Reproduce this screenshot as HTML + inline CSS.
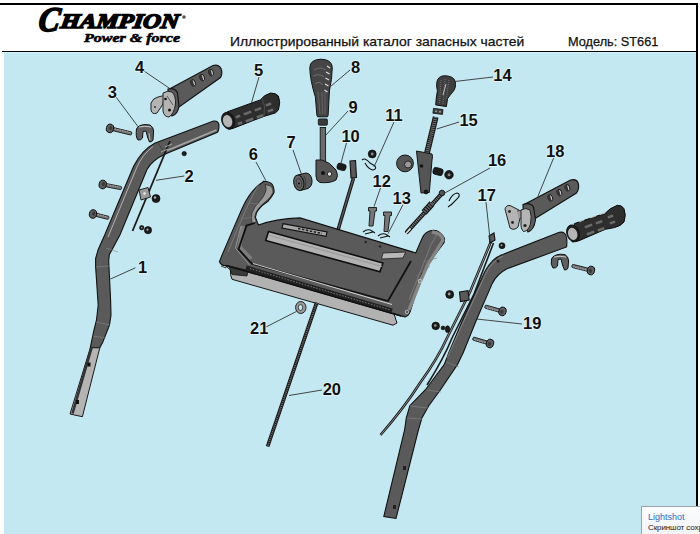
<!DOCTYPE html>
<html><head><meta charset="utf-8">
<style>
html,body{margin:0;padding:0;background:#fff;}
body{width:700px;height:534px;position:relative;overflow:hidden;font-family:"Liberation Sans",sans-serif;}
.abs{position:absolute;}
#topline{left:0;top:3px;width:698px;height:2px;background:#000;}
#rightline{left:696px;top:3px;width:2px;height:531px;background:#000;}
#hline{left:2px;top:51px;width:696px;height:1px;background:#000;}
#hline2{left:4px;top:52px;width:692px;height:1px;background:#d6f3fa;}
#blue{left:4px;top:53px;width:692px;height:481px;background:#c3e8f2;}
#title{left:229.5px;top:33.5px;font-size:13px;color:#111;white-space:nowrap;transform-origin:0 0;transform:scaleX(1.07);-webkit-text-stroke:0.25px #111;}
#model{left:568px;top:33.5px;font-size:13px;color:#111;white-space:nowrap;transform-origin:0 0;transform:scaleX(0.98);-webkit-text-stroke:0.25px #111;}

#ls{left:641px;top:506px;width:70px;height:40px;background:linear-gradient(#fbfcfd,#eef1f5);border:1px solid #9aa3ad;box-sizing:border-box;}
#ls1{left:648px;top:511.5px;font-size:9px;color:#2f6fc6;white-space:nowrap;}
#ls2{left:648px;top:522.5px;font-size:8px;letter-spacing:-0.1px;color:#222;white-space:nowrap;}
svg{position:absolute;left:0;top:0;}
.lb{font-family:"Liberation Sans",sans-serif;font-weight:bold;font-size:16.5px;fill:#111;stroke:#e4f6fb;stroke-width:1.6px;paint-order:stroke;}
.ld{stroke:#333;stroke-width:0.9;fill:none;}
.dk{fill:#5a5a5a;stroke:#111;stroke-width:1.1;}
.lt{fill:#b4b4b4;stroke:#222;stroke-width:1;}
.blk{fill:#1c1c1c;stroke:#000;stroke-width:0.6;}
</style></head><body>
<div class="abs" id="topline"></div>
<div class="abs" id="rightline"></div>
<div class="abs" id="hline"></div>
<div class="abs" id="hline2"></div>
<div class="abs" id="blue"></div>
<svg width="700" height="60" style="position:absolute;left:0;top:0">
<g font-family="Liberation Serif, serif" font-weight="bold" font-style="italic" fill="#000" stroke="#000">
<g transform="translate(3,0) skewX(-8)"><text x="39" y="31.5" font-size="34.5" stroke-width="1.7" textLength="21" lengthAdjust="spacingAndGlyphs">C</text>
<text x="61" y="28.5" font-size="20.5" stroke-width="1.5" textLength="118" lengthAdjust="spacingAndGlyphs">HAMPION</text></g>
<text x="84" y="42.3" font-size="13.2" stroke-width="0.6" textLength="96" lengthAdjust="spacingAndGlyphs">Power &amp; force</text>
</g>
<circle cx="184" cy="17" r="1.8" fill="#555"/>
</svg>
<div class="abs" id="title">Иллюстрированный каталог запасных частей</div>
<div class="abs" id="model">Модель: ST661</div>
<svg width="700" height="534" viewBox="0 0 700 534">
<!-- LEFT HANDLE (1) -->
<g id="p1">
<path class="dk" d="M213.5,121 Q218.5,120.5 219,125 Q219,130.5 217.5,132.2 L165.9,153.7 Q152,160 147,169.5 L119.9,235 L109.3,254.7 L108.7,261.2 L110.6,300 L111,315 L109.5,325 L102.6,342.6 L99.8,347.8 L90.3,347.8 L93.5,332 L96.5,320 L98.2,305 L95.6,266.5 L95.6,258.6 L98.2,249.4 L104.7,235 L133.6,166.2 Q142,150 154.7,143.2 Z"/>
<path fill="#b4b4b4" stroke="#1a1a1a" stroke-width="1" d="M90.3,347.8 L99.8,347.8 L82.4,416.7 L70,414 Z"/>
<path d="M91.5,348 L72.5,413.5" stroke="#333" stroke-width="2.6"/>
<path d="M153,146.5 Q142,155 137,167 L108,237" stroke="#bbb" stroke-width="0.9" fill="none"/>
<path d="M166,151 L216.5,130" stroke="#a5a5a5" stroke-width="1.8"/>
<path d="M158,143 L165,153.5" stroke="#333" stroke-width="0.7"/>
<path d="M106,248 L118,252 M96,267 L109,266 M96,322 L110,325 M93,336 L106,338" stroke="#888" stroke-width="0.6"/>
<rect x="87.5" y="362.5" width="3" height="4" fill="#111"/><rect x="76" y="400" width="3" height="4" fill="#111"/>
</g>
<!-- bolts left -->
<g><g transform="translate(110,128.4) rotate(13.5)"><rect x="2.2" y="-1.60" width="20.1" height="3.2" rx="1" fill="#7a7a7a" stroke="#111" stroke-width="0.8"/><path d="M4.6,-0.80 L20.7,-0.80" stroke="#aaa" stroke-width="0.8" stroke-dasharray="1.5 1"/><ellipse cx="0" cy="0" rx="3.6" ry="4.3" fill="#5e5e5e" stroke="#0a0a0a" stroke-width="0.9"/><ellipse cx="0.5" cy="-0.5" rx="1.6" ry="2.1" fill="#3a3a3a"/></g><g transform="translate(102.7,184.5) rotate(11.1)"><rect x="2.2" y="-1.60" width="17.0" height="3.2" rx="1" fill="#7a7a7a" stroke="#111" stroke-width="0.8"/><path d="M4.6,-0.80 L17.7,-0.80" stroke="#aaa" stroke-width="0.8" stroke-dasharray="1.5 1"/><ellipse cx="0" cy="0" rx="3.6" ry="4.3" fill="#5e5e5e" stroke="#0a0a0a" stroke-width="0.9"/><ellipse cx="0.5" cy="-0.5" rx="1.6" ry="2.1" fill="#3a3a3a"/></g><g transform="translate(93,214) rotate(14.2)"><rect x="2.2" y="-1.60" width="14.1" height="3.2" rx="1" fill="#7a7a7a" stroke="#111" stroke-width="0.8"/><path d="M4.6,-0.80 L14.8,-0.80" stroke="#aaa" stroke-width="0.8" stroke-dasharray="1.5 1"/><ellipse cx="0" cy="0" rx="3.6" ry="4.3" fill="#5e5e5e" stroke="#0a0a0a" stroke-width="0.9"/><ellipse cx="0.5" cy="-0.5" rx="1.6" ry="2.1" fill="#3a3a3a"/></g></g>
<!-- clamp 3 -->
<g>
<path fill="#5e5e5e" stroke="#111" stroke-width="1" d="M136.5,129 Q138,125 145,124.6 L150,125 Q153.5,127 153.6,131 L153,140 Q152,142.3 149.5,142 L147.5,137 L146,131 L143,131.5 L142.5,138 Q141,140.5 138,140 Q135.4,137 136.5,129 Z"/>
<path d="M139,127 Q145,125.5 151,127" stroke="#ccc" stroke-width="1" fill="none"/>
<path d="M149,133 L150,140" stroke="#ccc" stroke-width="0.8"/>
</g>
<!-- rod 2 -->
<g>
<path d="M170,141 L132.5,231" stroke="#1a1a1a" stroke-width="1.8"/>
<path fill="#9a9a9a" stroke="#111" stroke-width="0.9" d="M139,190 L148,187.5 L150.5,197 L141,200 Z"/>
<circle cx="144.5" cy="193.5" r="1.3" fill="#eee"/>
<circle cx="156" cy="198.6" r="4" class="blk"/><circle cx="155" cy="197.5" r="1.2" fill="#aaa"/>
<circle cx="141.7" cy="227.7" r="2.2" class="blk"/><circle cx="141.7" cy="227.7" r="0.8" fill="#aaa"/>
<circle cx="148" cy="230.2" r="3.6" class="blk"/><circle cx="147.5" cy="229.7" r="1.1" fill="#aaa"/>
<circle cx="184.2" cy="153.6" r="2.2" class="blk"/>
<path d="M165,147 L172,144 M161,152 L168,149" stroke="#ccc" stroke-width="0.7"/>
</g>
<!-- grip 4 -->
<g>
<path class="dk" d="M168.5,89.5 L213,65.5 Q218.5,64 221,68.5 Q223,73.5 220.5,77.5 L177,108.5 Z"/>
<path class="dk" d="M168,89 Q175,87.5 177.5,93 L179,106 Q178,114 172,116 L168,106 Z" style="fill:#5a5a5a"/>
<g transform="translate(193,82.9) rotate(-20)"><ellipse rx="2.3" ry="3.4" fill="#c8c8c8" stroke="#111" stroke-width="0.9"/><path d="M-2.3,0 A2.3,3.4 0 0 1 0.6,-3.3 L0.2,3.4 A2.3,3.4 0 0 1 -2.3,0 Z" fill="#333"/></g><g transform="translate(202.1,77.6) rotate(-20)"><ellipse rx="2.3" ry="3.4" fill="#c8c8c8" stroke="#111" stroke-width="0.9"/><path d="M-2.3,0 A2.3,3.4 0 0 1 0.6,-3.3 L0.2,3.4 A2.3,3.4 0 0 1 -2.3,0 Z" fill="#333"/></g><g transform="translate(211,72.6) rotate(-20)"><ellipse rx="2.3" ry="3.4" fill="#c8c8c8" stroke="#111" stroke-width="0.9"/><path d="M-2.3,0 A2.3,3.4 0 0 1 0.6,-3.3 L0.2,3.4 A2.3,3.4 0 0 1 -2.3,0 Z" fill="#333"/></g>
<path class="lt" d="M151,103 Q153,98 158,97 L164,95.5 L163,104 L157,113 Q152,115 151,110 Z"/>
<path class="lt" d="M163,93 Q168,90 172,92 Q176,96 175.5,104 Q174,114 169,117 Q164,117 163,111 Z"/>
<circle cx="165.5" cy="99" r="1.3" fill="#111"/><circle cx="169.5" cy="110" r="1.5" fill="#111"/><circle cx="155" cy="107" r="1" fill="#333"/>
<path d="M167,96 L173,105" stroke="#333" stroke-width="0.7"/>
</g>
<!-- grip 5 -->
<g>
<path fill="#2e2e2e" stroke="#0a0a0a" stroke-width="1" d="M227.1,111.9 L260.3,99.9 Q264,95 270.6,93 Q276,93 278.4,96 Q281,102 278.4,110 Q276,113.5 271.7,114.1 L263.7,116.4 L232.9,128.4 Q229,129.5 228.3,129 Z"/>
<ellipse cx="228" cy="120.7" rx="6.2" ry="8.6" transform="rotate(-18 228 120.7)" fill="#1e1e1e" stroke="#0a0a0a" stroke-width="0.8"/>
<ellipse cx="227.6" cy="121.2" rx="4.6" ry="6.2" transform="rotate(-18 227.6 121.2)" fill="#b5b5b5"/>
<g fill="#6a6a6a" stroke="#222" stroke-width="0.5">
<path d="M243,113 L251,110 L252,113 L244,116 Z"/><path d="M254,109 L261,106.5 L262,109.5 L255,112 Z"/>
<path d="M245,120 L253,117 L254,120 L246,123 Z"/><path d="M256,116 L263,113.5 L264,116.5 L257,119 Z"/>
<path d="M237,122.5 L242,121 L243,124 L238,125.5 Z"/><path d="M265,104 L271,102 L272,105 L266,107 Z"/>
<path d="M235,116 L240,114 L241,117 L236,119 Z"/><path d="M267,110 L273,108 L274,111 L268,113 Z"/>
</g>
<path d="M262,98 Q266,106 264,116" stroke="#555" stroke-width="0.8" fill="none"/>
</g>
<!-- knob 8 -->
<g>
<path fill="#454545" stroke="#111" stroke-width="1" d="M321,59.2 Q332,59.5 332.3,67.6 Q332,80 329.5,90.1 L328.1,115.4 L327.5,116.8 L317.6,116.8 L316.9,115.4 L315.4,97.1 Q310,80 309.8,67.6 Q310,59.5 321,59.2 Z"/>
<path d="M327,66 L330,68 M326,72 L329.5,74 M325.5,78 L329,80 M325,84 L328.5,86 M324.5,90 L327.5,92" stroke="#ddd" stroke-width="1.2"/>
<path d="M314,70 Q320,66 326,70 M313,76 Q319,73 324,77 M315,84 Q319,80 323,85" stroke="#777" stroke-width="0.8" fill="none"/>
<path d="M318,92 L320,114 M322,92 L322.5,114 M325,92 L325,114" stroke="#6a6a6a" stroke-width="0.8"/>
<rect x="318.3" y="118.9" width="9.1" height="6.3" rx="1" fill="#3a3a3a" stroke="#111" stroke-width="0.8"/>
<rect x="320.2" y="127.5" width="5.4" height="34" fill="#6a6a6a" stroke="#151515" stroke-width="0.9"/>
<path fill="#555" stroke="#151515" stroke-width="1" d="M316,160 L322,160 Q330,162 336,170 Q339,176 336,180 Q330,183.5 320,182.5 Q316,181 316,176 Z"/>
<circle cx="323" cy="173" r="2" fill="#111"/><circle cx="329.5" cy="174" r="2.2" fill="#ddd" stroke="#111" stroke-width="0.8"/>
<rect x="337" y="163.5" width="9" height="6.5" rx="2.5" class="blk" transform="rotate(15 341 167)"/>
</g>
<!-- knob 7 -->
<g>
<path fill="#5a5a5a" stroke="#111" stroke-width="1" d="M298,175 L306,173 Q311,173.5 312,180 Q312.5,186 308,188.5 L300,190.5 Z"/>
<ellipse cx="298.8" cy="182.8" rx="5" ry="7.8" transform="rotate(-12 298.8 182.8)" fill="#646464" stroke="#111" stroke-width="1"/>
<ellipse cx="299" cy="183" rx="2.8" ry="4.5" transform="rotate(-12 299 183)" fill="none" stroke="#333" stroke-width="0.8"/>
<circle cx="299" cy="183.5" r="1.1" fill="#111"/>
<path d="M304,176 Q307,181 305,189" stroke="#333" stroke-width="0.8" fill="none"/>
</g>
<!-- knob 14 + rod 15 -->
<g>
<path fill="#3e3e3e" stroke="#111" stroke-width="1" d="M444.7,75.7 Q454,76 455.4,81.9 Q456,88 453.7,90.8 Q450,95 447.5,98.7 L446.4,106.6 L435.7,104.9 Q436,98 437.4,90.8 Q436,86 436.9,81.9 Q438,76 444.7,75.7 Z"/>
<path d="M441,80 L439.5,103 M445,79 L443,104 M449,80 L446,100" stroke="#888" stroke-width="0.7" stroke-dasharray="1 1"/>
<path d="M446,84 L443,95" stroke="#ccc" stroke-width="0.9"/>
<path fill="#3e3e3e" stroke="#111" stroke-width="0.8" d="M433.5,108.3 L443,109.5 L442.5,114.4 L432.9,113.2 Z"/>
<circle cx="436" cy="111.3" r="1" fill="#999"/><circle cx="440" cy="111.8" r="1" fill="#999"/>
<path d="M435.7,117 L426.5,155" stroke="#151515" stroke-width="5.8"/>
<path d="M435.7,117 L426.5,155" stroke="#6e6e6e" stroke-width="3.8" stroke-dasharray="1.2 0.8"/>
<path fill="#555" stroke="#151515" stroke-width="1" d="M416.5,151 L432,154 Q433,156 432,160 L429.3,192.5 L421,193 Z"/>
<circle cx="421.5" cy="166" r="1.8" fill="#111"/>
<circle cx="426" cy="192" r="2" class="blk"/>
<circle cx="405" cy="163.4" r="8.4" fill="#555" stroke="#151515" stroke-width="1"/>
<circle cx="408" cy="164.5" r="3.5" fill="#999" stroke="#111" stroke-width="0.8"/>
<rect x="433" y="168" width="10" height="7" rx="2.5" class="blk" transform="rotate(15 438 171.5)"/>
<circle cx="449" cy="174.7" r="4.3" class="blk"/><circle cx="449" cy="174.7" r="1.5" fill="#888"/>
</g>
<!-- pin 11, rod 12 -->
<g>
<circle cx="372.2" cy="154" r="4" class="blk"/><circle cx="372.2" cy="154" r="1.4" fill="#888"/>
<path d="M362,160 Q365,157 370,163 L375,166 Q377,169 373,170 Q368,169 365,163" stroke="#111" stroke-width="1.1" fill="none"/>
<path class="dk" d="M350,161 L355.5,160.5 L356.5,177.5 L351,178 Z"/>
<path d="M353.5,178 L338,230" stroke="#151515" stroke-width="3.5"/>
<path d="M353.5,178 L338,230" stroke="#555" stroke-width="1.5"/>
</g>
<!-- bolts 13 -->
<g>
<path class="lt" d="M368.5,207.5 L376.5,207.5 L376.5,211 L375,211 L373,226 L369,226 L370,211 L368.5,211 Z" style="fill:#777"/>
<path class="lt" d="M383.5,212 L391.5,212 L391.5,215.5 L390,215.5 L388,231.5 L384,231.5 L385,215.5 L383.5,215.5 Z" style="fill:#777"/>
<path d="M363,232 Q368,228 372,231 L375,233 M365,234 L373,232" stroke="#111" stroke-width="1.1" fill="none"/>
<path d="M378,236 Q383,232 387,235 L390,237 M380,238 L388,236" stroke="#111" stroke-width="1.1" fill="none"/>
</g>
<!-- cable 16 -->
<g>
<path d="M441.5,194 L407,232" stroke="#111" stroke-width="4.2" stroke-linecap="round"/>
<path d="M441.5,194 L407,232" stroke="#7a7a7a" stroke-width="2.4" stroke-dasharray="1.2 0.8"/>
<path d="M432,203.5 L424,212.5" stroke="#111" stroke-width="6.5"/>
<path d="M432,203.5 L424,212.5" stroke="#666" stroke-width="4.5" stroke-dasharray="1.5 1"/>
<circle cx="442" cy="193" r="2.8" fill="#555" stroke="#111" stroke-width="0.9"/>
<path d="M410.5,228.5 L405,234.5" stroke="#ddd" stroke-width="1.6"/>
<path d="M449,201 Q452,194 457,193 Q461,194 458,198 L451,205 M452,204 L448,207" stroke="#111" stroke-width="1.1" fill="none"/>
</g>
<!-- PANEL 6 -->
<g id="p6">
<path fill="#b2b2b2" stroke="#151515" stroke-width="1" d="M224,264 L392,308 L397,323 L393,325.2 L232,279.3 Q230,275 230.4,270 Z"/>
<path d="M226,262.5 L226,268 L221,266" fill="#c8c8c8" stroke="#222" stroke-width="0.8"/>
<path class="dk" d="M263.3,181.3 Q270,181.5 272.3,184.5 Q274.5,188 274,192.5 Q272,197 267.7,201.5 Q262,205 258.7,209.4 Q255.5,213 255.4,217.2 L257.6,222.9 L258.6,225 Q275,219 300,217.9 L413,252.1 L415.7,253 L421.9,238.6 Q425,231 433.2,230.3 Q440,230 444.5,238.6 Q445,242 442.5,244.7 L430.1,261.2 L421.9,273.6 L410.5,310.7 Q409,316 405,317 L401.2,315.9 L226.2,265.5 Q221,266 219.5,261.5 L221.7,255.9 L235.2,224.4 L242,208.7 Q250,190 263.3,181.7 Z"/>
<path fill="#b2b2b2" stroke="#0e0e0e" stroke-width="1.6" d="M268.6,231.5 L382.9,263 L380,271.8 L265.7,240.5 Z"/>
<path d="M268,235 L382,266.5" stroke="#9a9a9a" stroke-width="1.2"/>
<path fill="#a8a8a8" stroke="#111" stroke-width="1.2" d="M283,223.6 L327,232 L326,236.4 L282,228 Z"/>
<path d="M298,228.5 L322,233.5" stroke="#222" stroke-width="1.6" stroke-dasharray="2.5 1.5"/>
<path fill="#b8b8b8" stroke="#1a1a1a" stroke-width="0.8" d="M383,253 L405.7,252 L403,258 L381.4,259 Z"/>
<circle cx="365.7" cy="242" r="1.2" fill="#222"/><circle cx="380" cy="246.4" r="1.2" fill="#222"/>
<path d="M243,226 L239.5,247 L251,259" stroke="#7c7c7c" stroke-width="4" fill="none"/>
<path d="M255,223 L246.5,225.6 L238.5,249.2 L252,263.8 L388,301 L411,261" stroke="#111" stroke-width="1.8" fill="none"/>
<path d="M241,226 L235.5,248 L249.5,265" stroke="#bbb" stroke-width="0.6" fill="none"/>
<path d="M271,186 Q273.5,189 273,192.5 Q271,197 267,200.5 Q261,205 258,209 Q254.8,213 254.8,217.5 L256.5,222 L252,223 Q251,217 252,213 Q254,207 259,202 Q264,197 265.5,192 Q267,188 265,184.5 Z" fill="#9a9a9a" stroke="#222" stroke-width="0.7"/>
<path d="M432,232 Q442,233 443,240 Q436,252 428,264 L420,282 L409,310" stroke="#858585" stroke-width="3.4" fill="none"/>
<path d="M290,226 L322,232.5" stroke="#000" stroke-width="0"/>
<path d="M253,263.5 L392,304.5" stroke="#d0d0d0" stroke-width="1.1"/>
<path d="M229,266 L248,270.5 L247,276 L232,274.5 Z" fill="#3a3a3a" stroke="#111" stroke-width="0.8"/>
<path d="M246,268 L392,311" stroke="#222" stroke-width="5"/>
<path d="M250,268.5 L390,309.8" stroke="#777" stroke-width="1" stroke-dasharray="1.5 1.5"/>
<path d="M226.2,265.5 L401.2,315.9" stroke="#111" stroke-width="1.6"/>
<path d="M259,184 Q249,200 228,252" stroke="#888" stroke-width="0.7" fill="none"/>
<path d="M437,234 Q430,245 427,255 L409,300" stroke="#888" stroke-width="0.7" fill="none"/>
<path d="M248,203 L260,204 M242,219 L253,217 M422,262 L437,258 M416,276 L430,266" stroke="#777" stroke-width="0.6"/>
<circle cx="420" cy="281" r="1.8" fill="none" stroke="#ccc" stroke-width="0.8"/>
<circle cx="407" cy="312" r="1.8" fill="none" stroke="#ccc" stroke-width="0.8"/>
</g>
<!-- ring 21 -->
<g>
<ellipse cx="300.8" cy="307.5" rx="5.2" ry="6" class="lt" style="fill:#9a9a9a"/>
<ellipse cx="300.5" cy="307.5" rx="2.2" ry="3" fill="#c3e8f2" stroke="#222" stroke-width="0.8"/>
</g>
<!-- rod 20 -->
<path d="M316.7,302.6 L267.6,446.5" stroke="#151515" stroke-width="3.8"/>
<path d="M316.7,302.6 L267.6,446.5" stroke="#6a6a6a" stroke-width="1.8" stroke-dasharray="1.2 0.8"/>
<!-- grip 18 -->
<g>
<path class="dk" d="M524.6,204.2 L570.5,180 Q576,178.5 578,182.5 Q580,188 576.5,193 L536,218 Z"/>
<g transform="translate(550.3,197.9) rotate(-20)"><ellipse rx="2.3" ry="3.4" fill="#c8c8c8" stroke="#111" stroke-width="0.9"/><path d="M-2.3,0 A2.3,3.4 0 0 1 0.6,-3.3 L0.2,3.4 A2.3,3.4 0 0 1 -2.3,0 Z" fill="#333"/></g><g transform="translate(559.4,192.6) rotate(-20)"><ellipse rx="2.3" ry="3.4" fill="#c8c8c8" stroke="#111" stroke-width="0.9"/><path d="M-2.3,0 A2.3,3.4 0 0 1 0.6,-3.3 L0.2,3.4 A2.3,3.4 0 0 1 -2.3,0 Z" fill="#333"/></g><g transform="translate(567.4,187.8) rotate(-20)"><ellipse rx="2.3" ry="3.4" fill="#c8c8c8" stroke="#111" stroke-width="0.9"/><path d="M-2.3,0 A2.3,3.4 0 0 1 0.6,-3.3 L0.2,3.4 A2.3,3.4 0 0 1 -2.3,0 Z" fill="#333"/></g>
<path class="dk" d="M523,204.5 Q530,202 533.5,207 L535.5,220 Q534,230 528,232 L523.5,222 Z" style="fill:#5a5a5a"/>
<path class="lt" d="M505,209 Q506,205 510,205.5 L519,210 L521,214 L518,227 Q514,231 510,228 Z"/>
<path d="M517,211 L523,210 L523,218 L519,219" fill="#999" stroke="#222" stroke-width="0.7"/>
<path class="lt" d="M521,210 Q526,207 530,210 Q532,216 530.5,224 Q528,231.5 523.5,231.5 Q520.5,229 521,222 Z"/>
<circle cx="509.5" cy="211.5" r="1.4" fill="#222"/><circle cx="512.5" cy="222.5" r="1.4" fill="#222"/><circle cx="525" cy="225.5" r="1.6" fill="#222"/>
</g>
<!-- grip right (like 5) -->
<g>
<path fill="#2e2e2e" stroke="#0a0a0a" stroke-width="1" d="M574.4,223.6 L605.3,213.3 Q609,208.5 617.3,205.3 Q622,205 624,208.7 Q626.5,215 624,222 Q621,226 614.4,227.6 L605.3,229.3 L579,240.7 Q575,242 572.1,241.9 Z"/>
<ellipse cx="573" cy="233.3" rx="6.2" ry="8.6" transform="rotate(-18 573 233.3)" fill="#1e1e1e" stroke="#0a0a0a" stroke-width="0.8"/>
<ellipse cx="572.7" cy="233.8" rx="4.6" ry="6.2" transform="rotate(-18 572.7 233.8)" fill="#b5b5b5"/>
<g fill="#6a6a6a" stroke="#222" stroke-width="0.5">
<path d="M584,226 L592,223 L593,226 L585,229 Z"/><path d="M595,222 L602,219.5 L603,222.5 L596,225 Z"/>
<path d="M586,233 L594,230 L595,233 L587,236 Z"/><path d="M597,229 L604,226.5 L605,229.5 L598,232 Z"/>
<path d="M607,216 L613,214 L614,217 L608,219 Z"/><path d="M609,222 L615,220 L616,223 L610,225 Z"/>
</g>
<path d="M579,222 L584,220 M590,218 L596,216 M600,214.5 L605,213" stroke="#ccc" stroke-width="0.9"/>
</g>
<!-- RIGHT HANDLE 19 -->
<g id="p19">
<path class="dk" d="M559.3,232.3 Q566,231 566.8,239 Q567,245 566.6,246.9 L507,268.8 Q497,274 492.3,283.4 L476.4,320 L463.2,352.8 L457.4,364.6 L440.3,390 L428.8,405.7 L421.9,417.9 L418.4,430 L396,518.5 L383.8,516.5 L404.6,430 L406.3,417.9 L409.8,405.7 L425.2,390 L444.2,364.6 L448.8,352.8 L462.6,320 L485,271.3 Q492,258 503.3,254.2 Z"/>
<path d="M503,256 Q491,262 485.5,274 L462,325 L447,358" stroke="#999" stroke-width="0.7" fill="none"/>
<path d="M446,362 L459,367 M427,390 L441,392 M410,406 L428,408 M407,418 L422,419" stroke="#888" stroke-width="0.6"/>
<rect x="403" y="466" width="3" height="4" fill="#222"/><rect x="393" y="505" width="3" height="4" fill="#222"/>
<circle cx="498" cy="261" r="1.5" fill="#222"/>
</g>
<!-- cable right -->
<path d="M491,241.5 L470,292 L447,338 Q438,358 420,383 Q404,408 380.5,435" stroke="#1a1a1a" stroke-width="2.6" fill="none"/>
<path d="M491,241.5 L470,292 L447,338 Q438,358 420,383 Q404,408 380.5,435" stroke="#9a9a9a" stroke-width="0.9" fill="none"/>
<path d="M493.5,243 L474,294 L452,338 Q444,358 427,385" stroke="#1a1a1a" stroke-width="1.6" fill="none"/>
<path class="dk" d="M489,236 L494,233 L495,240 L490,243 Z"/>
<path class="dk" d="M459.5,292 L468,290.7 L469.2,300 L460.5,301.5 Z"/>
<!-- clamp right -->
<g>
<path fill="#5e5e5e" stroke="#111" stroke-width="1" d="M551.5,259 Q553,255 560,254.2 L565,254.6 Q568.5,256.6 568.6,261 L568,268 Q567,270.3 564.5,270 L562.5,265 L561,259 L558,259.5 L557.5,266 Q556,268.5 553,268 Q550.4,265 551.5,259 Z"/>
<path d="M554,257 Q560,255.5 566,257" stroke="#ccc" stroke-width="1" fill="none"/>
</g>
<!-- bolts right -->
<g><g transform="translate(591,270.5) rotate(-166.1)"><rect x="2.2" y="-1.60" width="17.4" height="3.2" rx="1" fill="#7a7a7a" stroke="#111" stroke-width="0.8"/><path d="M4.6,-0.80 L18.1,-0.80" stroke="#aaa" stroke-width="0.8" stroke-dasharray="1.5 1"/><ellipse cx="0" cy="0" rx="3.6" ry="4.3" fill="#5e5e5e" stroke="#0a0a0a" stroke-width="0.9"/><ellipse cx="0.5" cy="-0.5" rx="1.6" ry="2.1" fill="#3a3a3a"/></g><g transform="translate(502.5,311.4) rotate(-164.4)"><rect x="2.2" y="-1.60" width="16.0" height="3.2" rx="1" fill="#7a7a7a" stroke="#111" stroke-width="0.8"/><path d="M4.6,-0.80 L16.7,-0.80" stroke="#aaa" stroke-width="0.8" stroke-dasharray="1.5 1"/><ellipse cx="0" cy="0" rx="3.6" ry="4.3" fill="#5e5e5e" stroke="#0a0a0a" stroke-width="0.9"/><ellipse cx="0.5" cy="-0.5" rx="1.6" ry="2.1" fill="#3a3a3a"/></g><g transform="translate(490,343.5) rotate(-163.6)"><rect x="2.2" y="-1.60" width="15.6" height="3.2" rx="1" fill="#7a7a7a" stroke="#111" stroke-width="0.8"/><path d="M4.6,-0.80 L16.2,-0.80" stroke="#aaa" stroke-width="0.8" stroke-dasharray="1.5 1"/><ellipse cx="0" cy="0" rx="3.6" ry="4.3" fill="#5e5e5e" stroke="#0a0a0a" stroke-width="0.9"/><ellipse cx="0.5" cy="-0.5" rx="1.6" ry="2.1" fill="#3a3a3a"/></g></g>
<circle cx="502" cy="245.7" r="3" class="blk"/><circle cx="501.5" cy="245.2" r="1" fill="#999"/>
<circle cx="449.7" cy="294.4" r="4" class="blk"/><circle cx="449.2" cy="294" r="1.4" fill="#999"/>
<circle cx="435.7" cy="325.9" r="3.8" class="blk"/><circle cx="435.3" cy="325.5" r="1.3" fill="#999"/>
<circle cx="443" cy="327.9" r="1.9" class="blk"/>
<ellipse cx="447.5" cy="329.2" rx="2.2" ry="3.4" class="blk"/>
<!-- LEADERS -->
<g class="ld">
<path d="M144,71 L170.5,89"/>
<path d="M116,97 L138,126.6"/>
<path d="M184.2,176 L156,180.3"/>
<path d="M135.4,267.8 L110.5,279"/>
<path d="M259,77 L251.5,102.7"/>
<path d="M256,162 L265.8,180.5"/>
<path d="M293,150 L301.7,175"/>
<path d="M350,70 L330.6,86.4"/>
<path d="M348,111 L325.6,135.4"/>
<path d="M347,141 L340.7,164.2"/>
<path d="M394,122 L374,167"/>
<path d="M380.6,187.8 L374,206.5"/>
<path d="M403,204.6 L388,233.7"/>
<path d="M493,77 L455.6,81.4"/>
<path d="M459,122 L436.7,129"/>
<path d="M490,168 L443,194"/>
<path d="M486,202 L490.3,241.5"/>
<path d="M554,157 L537.8,196.6"/>
<path d="M522,324 L476.7,319"/>
<path d="M322,390 L289,395.5"/>
<path d="M266,327 L296.6,311.4"/>
</g>
<!-- LABELS -->
<g class="lb">
<text x="138.1" y="272.6">1</text>
<text x="184.5" y="181.9">2</text>
<text x="107.7" y="97.6">3</text>
<text x="135.1" y="73.4">4</text>
<text x="254.1" y="76.2">5</text>
<text x="248.8" y="160.2">6</text>
<text x="286.5" y="148.4">7</text>
<text x="351.0" y="72.9">8</text>
<text x="348.4" y="112.9">9</text>
<text x="341.4" y="141.6">10</text>
<text x="385.3" y="120.6">11</text>
<text x="372.5" y="186.8">12</text>
<text x="392.5" y="203.7">13</text>
<text x="493.3" y="81.0">14</text>
<text x="459.4" y="125.8">15</text>
<text x="487.9" y="165.9">16</text>
<text x="477.6" y="200.6">17</text>
<text x="546.0" y="156.6">18</text>
<text x="523.0" y="329.0">19</text>
<text x="322.7" y="394.9">20</text>
<text x="250.0" y="333.8">21</text>
</g>
</svg>
<div class="abs" id="ls"></div>
<div class="abs" id="ls1">Lightshot</div>
<div class="abs" id="ls2">Скриншот сохранён</div>

</body></html>
